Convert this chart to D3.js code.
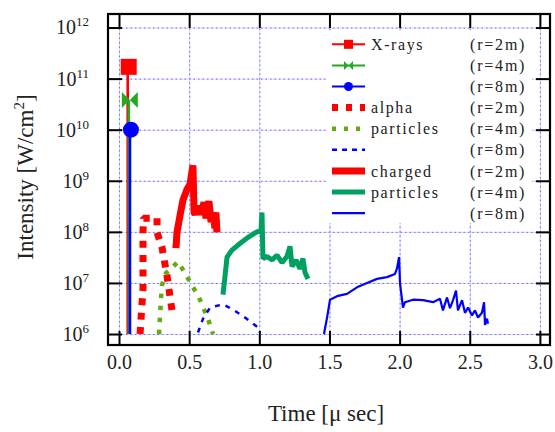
<!DOCTYPE html>
<html>
<head>
<meta charset="utf-8">
<script src="https://cdn.jsdelivr.net/npm/d3@7"></script>
<style>
body { margin: 0; background: #fff; }
text { font-family: "Liberation Serif", "Times New Roman", serif; fill: #222; }
</style>
</head>
<body>
<div id="chart"></div>
<script>
// ---- data ----
var xTicks = [0, 0.5, 1, 1.5, 2, 2.5, 3];
var yTicks = [1e6, 1e7, 1e8, 1e9, 1e10, 1e11, 1e12];

// X-rays: one spike each (time, peak), drawn down to the floor
var xrayT = [0.062, 0.070, 0.078];
var xrayPeak = [1.7e11, 3.8e10, 1.0e10];
var xrayFloor = 1e6;

// alpha particles
var alpha2T = [0.150, 0.171, 0.171, 0.174, 0.271, 0.271, 0.306, 0.342, 0.385];
var alpha2I = [1.0e6, 7.8e6, 9.8e7, 1.85e8, 1.85e8, 9.8e7, 5.0e7, 1.4e7, 2.1e6];
var alpha4T = [0.285, 0.300, 0.306, 0.335, 0.421, 0.470, 0.520, 0.570, 0.634, 0.670];
var alpha4I = [1.0e6, 5.2e6, 9.0e6, 1.55e7, 2.6e7, 1.55e7, 9.0e6, 5.2e6, 2.0e6, 1.0e6];
var alpha8T = [0.563, 0.599, 0.649, 0.741, 0.813, 0.898, 0.991, 1.005];
var alpha8I = [1.07e6, 2.0e6, 3.3e6, 3.8e6, 3.0e6, 2.1e6, 1.35e6, 1.07e6];

// charged particles
var charged2T = [0.406, 0.413, 0.435, 0.456, 0.485, 0.506, 0.527, 0.535, 0.542, 0.563, 0.584,
  0.606, 0.620, 0.641, 0.656, 0.670, 0.684, 0.691, 0.698];
var charged2I = [4.8e7, 9.8e7, 2.1e8, 4.2e8, 6.8e8, 8.5e8, 2.0e9, 2.4e8, 2.2e8, 3.2e8, 2.2e8,
  3.8e8, 1.84e8, 4.0e8, 1.55e8, 2.4e8, 1.17e8, 2.4e8, 9.8e7];
var charged4T = [0.741, 0.756, 0.770, 0.805, 0.862, 0.919, 0.976, 1.012, 1.019, 1.026, 1.055,
  1.091, 1.126, 1.162, 1.197, 1.219, 1.233, 1.262, 1.290, 1.311, 1.326, 1.347];
var charged4I = [5.9e6, 1.4e7, 3.2e7, 4.4e7, 5.9e7, 7.8e7, 9.8e7, 1.07e8, 2.4e8, 3.0e7, 3.3e7,
  2.8e7, 3.5e7, 2.5e7, 3.3e7, 5.2e7, 2.1e7, 2.8e7, 1.9e7, 3.0e7, 1.6e7, 1.2e7];
var charged8T = [1.461, 1.483, 1.504, 1.561, 1.625, 1.696, 1.768, 1.839, 1.910, 1.967, 1.981,
  1.996, 2.003, 2.024, 2.038, 2.096, 2.167, 2.238, 2.288, 2.309, 2.338, 2.359, 2.381, 2.402,
  2.416, 2.445, 2.466, 2.488, 2.516, 2.537, 2.559, 2.587, 2.602, 2.609, 2.623, 2.630];
var charged8I = [1.0e6, 2.1e6, 4.7e6, 5.6e6, 6.1e6, 8.2e6, 1.0e7, 1.2e7, 1.3e7, 1.5e7, 1.9e7,
  3.2e7, 9.8e6, 3.3e6, 4.2e6, 4.7e6, 4.6e6, 4.2e6, 4.9e6, 2.9e6, 5.2e6, 3.2e6, 4.6e6, 7.1e6,
  2.9e6, 4.6e6, 2.6e6, 3.3e6, 2.3e6, 2.9e6, 2.1e6, 2.6e6, 4.2e6, 1.5e6, 2.0e6, 1.6e6];

var legendNames = ["X-rays", "", "", "alpha", "particles", "", "charged", "particles", ""];
var legendRadii = ["(r=2m)", "(r=4m)", "(r=8m)", "(r=2m)", "(r=4m)", "(r=8m)", "(r=2m)", "(r=4m)", "(r=8m)"];

// ---- layout ----
var W = 555, H = 432;
var mLeft = 108, mRight = 550, mTop = 14, mBottom = 345;

var svg = d3.select("#chart").append("svg")
  .attr("width", W)
  .attr("height", H);

var x = d3.scaleLinear().domain([-0.0785, 3.072]).range([mLeft, mRight]);
var y = d3.scaleLog().domain([Math.pow(10, 5.785), Math.pow(10, 12.265)]).range([mBottom, mTop]);

// grid
function grid(g) {
  g.selectAll(".domain").remove();
  g.selectAll("line").attr("stroke", "#d4d4ff").attr("stroke-width", 1);
  g.selectAll(".tick").append("line").attr("class", "dash")
    .attr("x2", function() { return d3.select(this.parentNode).select("line").attr("x2"); })
    .attr("y2", function() { return d3.select(this.parentNode).select("line").attr("y2"); })
    .attr("stroke", "#6c6cff").attr("stroke-width", 1).attr("stroke-dasharray", "1.5,3");
}
svg.append("g").attr("transform", "translate(" + mLeft + ",0)")
  .call(d3.axisLeft(y).tickValues(yTicks).tickSize(-(mRight - mLeft)).tickFormat(""))
  .call(grid);
svg.append("g").attr("transform", "translate(0," + mBottom + ")")
  .call(d3.axisBottom(x).tickValues(xTicks).tickSize(-(mBottom - mTop)).tickFormat(""))
  .call(grid);

// legend background
svg.append("rect")
  .attr("x", 326).attr("y", 31).attr("width", 206).attr("height", 192)
  .attr("fill", "#fff");

// X-ray spikes
var xrayColors = ["#ff0000", "#22aa22", "#0000ff"];
xrayT.forEach(function(t, i) {
  svg.append("line")
    .attr("x1", x(t)).attr("x2", x(t))
    .attr("y1", y(xrayPeak[i])).attr("y2", y(xrayFloor))
    .attr("stroke", xrayColors[i]).attr("stroke-width", 2.6);
});

function marker(g, kind, cx, cy, s, color) {
  if (kind === "square") {
    g.append("rect").attr("x", cx - s / 2).attr("y", cy - s / 2)
      .attr("width", s).attr("height", s).attr("fill", color);
  } else if (kind === "bowtie") {
    var a = s / 2;
    g.append("path")
      .attr("d", "M" + (cx - a) + "," + (cy - a) + "L" + (cx + a) + "," + (cy + a) +
        "L" + (cx + a) + "," + (cy - a) + "L" + (cx - a) + "," + (cy + a) + "Z")
      .attr("fill", color);
  } else {
    g.append("circle").attr("cx", cx).attr("cy", cy).attr("r", s / 2).attr("fill", color);
  }
}
var markerKinds = ["square", "bowtie", "circle"];
xrayT.forEach(function(t, i) {
  marker(svg, markerKinds[i], x(t) + 1, y(xrayPeak[i]), 16, xrayColors[i]);
});

// line series
var line = d3.line()
  .x(function(d) { return x(d[0]); })
  .y(function(d) { return y(d[1]); });

var series = [
  { t: alpha2T, v: alpha2I, color: "#ff0000", width: 7, dash: "7,7.4" },
  { t: alpha4T, v: alpha4I, color: "#66aa11", width: 4.5, dash: "4.5,7.5" },
  { t: alpha8T, v: alpha8I, color: "#0000ff", width: 2.5, dash: "5,6" },
  { t: charged2T, v: charged2I, color: "#ff0000", width: 7, dash: null },
  { t: charged4T, v: charged4I, color: "#00a060", width: 5, dash: null },
  { t: charged8T, v: charged8I, color: "#0000ff", width: 2.2, dash: null }
];

series.forEach(function(s) {
  var pts = s.t.map(function(t, i) { return [t, s.v[i]]; });
  svg.append("path")
    .attr("d", line(pts))
    .attr("fill", "none")
    .attr("stroke", s.color)
    .attr("stroke-width", s.width)
    .attr("stroke-linejoin", "bevel")
    .attr("stroke-dasharray", s.dash);
});

// frame ticks
function ticks(g) {
  g.selectAll(".domain").remove();
  g.selectAll("line").attr("stroke", "#000").attr("stroke-width", 2);
}
var yAxis = svg.append("g").attr("transform", "translate(" + mLeft + ",0)")
  .call(d3.axisLeft(y).tickValues(yTicks).tickSizeInner(-14).tickSizeOuter(0).tickPadding(19)
    .tickFormat(function(d) { return Math.round(Math.log10(d)); }))
  .call(ticks);
yAxis.selectAll("text").each(function() {
  var t = d3.select(this), e = t.text();
  t.text(null).style("font-size", "20px").attr("fill", "#222");
  t.append("tspan").text("10");
  t.append("tspan").attr("dy", "-8").style("font-size", "13px").text(e);
});
svg.append("g").attr("transform", "translate(" + mRight + ",0)")
  .call(d3.axisRight(y).tickValues(yTicks).tickSizeInner(-14).tickSizeOuter(0).tickFormat(""))
  .call(ticks);
svg.append("g").attr("transform", "translate(0," + mBottom + ")")
  .call(d3.axisBottom(x).tickValues(xTicks).tickSizeInner(-14).tickSizeOuter(0).tickPadding(10)
    .tickFormat(d3.format(".1f")))
  .call(ticks)
  .selectAll("text").style("font-size", "20px").attr("fill", "#222");
svg.append("g").attr("transform", "translate(0," + mTop + ")")
  .call(d3.axisTop(x).tickValues(xTicks).tickSizeInner(-14).tickSizeOuter(0).tickFormat(""))
  .call(ticks);

svg.append("rect")
  .attr("x", mLeft).attr("y", mTop)
  .attr("width", mRight - mLeft).attr("height", mBottom - mTop)
  .attr("fill", "none").attr("stroke", "#000").attr("stroke-width", 2.2);

// legend
var lg = svg.append("g");
var rowY = function(i) { return 44.3 + i * 21.1; };
legendNames.forEach(function(name, i) {
  var yy = rowY(i);
  if (i < 3) {
    lg.append("line").attr("x1", 332).attr("x2", 365).attr("y1", yy).attr("y2", yy)
      .attr("stroke", xrayColors[i]).attr("stroke-width", 2);
    marker(lg, markerKinds[i], 348.5, yy, 9, xrayColors[i]);
  } else {
    var s = series[i - 3];
    lg.append("line").attr("x1", 332).attr("x2", 365).attr("y1", yy).attr("y2", yy)
      .attr("stroke", s.color).attr("stroke-width", s.width)
      .attr("stroke-dasharray", s.dash ? (i === 3 ? "6,8" : i === 4 ? "4,8" : "5,5") : null);
  }
  lg.append("text").attr("x", 371).attr("y", yy).attr("dy", "0.35em")
    .style("font-size", "16px").style("letter-spacing", "1.6px").text(name);
  lg.append("text").attr("x", 470).attr("y", yy).attr("dy", "0.35em")
    .style("font-size", "16px").style("letter-spacing", "1.8px").text(legendRadii[i]);
});

// axis titles
var yt = svg.append("text")
  .attr("transform", "translate(33,177) rotate(-90)")
  .attr("text-anchor", "middle")
  .style("font-size", "23px");
yt.append("tspan").text("Intensity [W/cm");
yt.append("tspan").attr("dy", "-9").style("font-size", "15px").text("2");
yt.append("tspan").attr("dy", "9").text("]");

svg.append("text")
  .attr("x", 326).attr("y", 421)
  .attr("text-anchor", "middle")
  .style("font-size", "23px")
  .text("Time [\u03bc sec]");
</script>
</body>
</html>
